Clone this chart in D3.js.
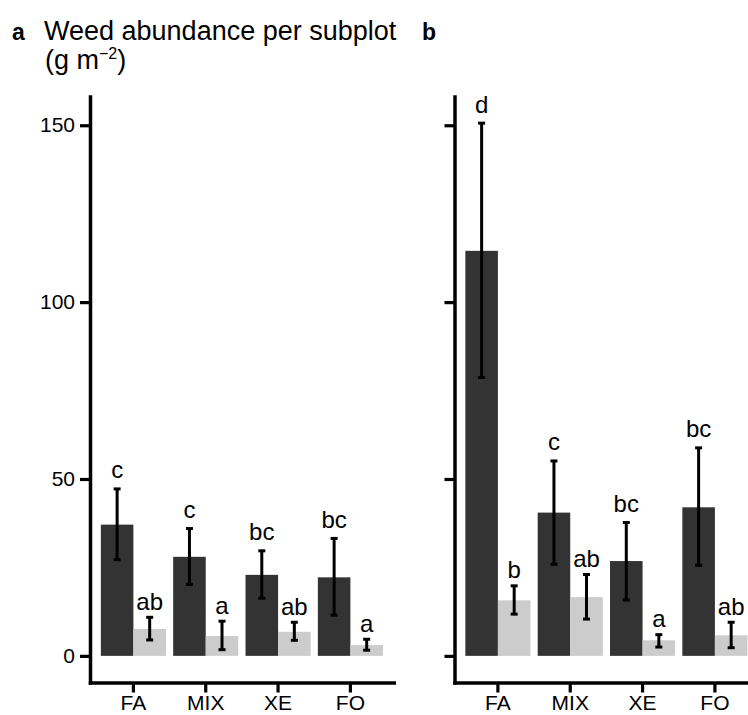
<!DOCTYPE html>
<html lang="en">
<head>
    <meta charset="UTF-8">
    <title>Weed abundance</title>
    <script src="https://d3js.org/d3.v7.min.js"></script>
    <style>
        body { margin: 0; background: #fff; }
        text { font-family: "Liberation Sans", Arial, sans-serif; fill: #000; }
    </style>
</head>
<body>
    <script>
        // treatments on the x axis
        var treatments = ["FA", "MIX", "XE", "FO"];
        var series = ["dark", "light"];
        var yTicks = [0, 50, 100, 150];

        // panel a
        var aDarkMean = [37.1, 28.0, 22.9, 22.2];
        var aDarkLow = [27.2, 20.2, 16.3, 11.5];
        var aDarkHigh = [47.2, 36.0, 29.7, 33.2];
        var aDarkLetters = ["c", "c", "bc", "bc"];
        var aLightMean = [7.6, 5.6, 6.8, 3.05];
        var aLightLow = [4.5, 1.75, 4.4, 1.6];
        var aLightHigh = [10.9, 9.8, 9.5, 4.7];
        var aLightLetters = ["ab", "a", "ab", "a"];

        // panel b
        var bDarkMean = [114.5, 40.5, 26.8, 42.0];
        var bDarkLow = [78.7, 25.9, 15.8, 25.6];
        var bDarkHigh = [150.6, 55.1, 37.7, 58.8];
        var bDarkLetters = ["d", "c", "bc", "bc"];
        var bLightMean = [15.7, 16.6, 4.4, 5.8];
        var bLightLow = [11.8, 10.4, 2.5, 2.3];
        var bLightHigh = [19.8, 23.0, 6.0, 9.5];
        var bLightLetters = ["b", "ab", "a", "ab"];

        var colors = { dark: "#333333", light: "#cccccc" };

        function rows(mean, low, high, letters, s) {
            return treatments.map(function (t, i) {
                return { t: t, s: s, mean: mean[i], low: low[i], high: high[i], letter: letters[i] };
            });
        }

        var panels = [
            { name: "a", left: 90, showLabels: true,
              data: rows(aDarkMean, aDarkLow, aDarkHigh, aDarkLetters, "dark")
                .concat(rows(aLightMean, aLightLow, aLightHigh, aLightLetters, "light")) },
            { name: "b", left: 454.5, showLabels: false,
              data: rows(bDarkMean, bDarkLow, bDarkHigh, bDarkLetters, "dark")
                .concat(rows(bLightMean, bLightLow, bLightHigh, bLightLetters, "light")) }
        ];

        var width = 748, height = 715,
            panelW = 303.8, plotTop = 96.5, plotBottom = 682.5;

        var svg = d3.select("body").append("svg")
            .attr("width", width)
            .attr("height", height);

        // shared y scale, ggplot style 5% expansion
        var allHigh = d3.max(panels, function (p) { return d3.max(p.data, function (d) { return d.high; }); });
        var pad = allHigh * 0.05;
        var y = d3.scaleLinear()
            .domain([-pad, allHigh + pad])
            .range([plotBottom, plotTop]);

        panels.forEach(function (p) {
            var x = d3.scaleBand()
                .domain(treatments)
                .range([p.left, p.left + panelW])
                .paddingInner(0)
                .paddingOuter(0.1);

            var xs = d3.scaleBand()
                .domain(series)
                .range([x.bandwidth() * 0.05, x.bandwidth() * 0.95]);

            var g = svg.append("g");

            g.selectAll("rect")
                .data(p.data)
                .enter().append("rect")
                .attr("x", function (d) { return x(d.t) + xs(d.s); })
                .attr("y", function (d) { return y(d.mean); })
                .attr("width", xs.bandwidth())
                .attr("height", function (d) { return y(0) - y(d.mean); })
                .attr("fill", function (d) { return colors[d.s]; });

            var cx = function (d) { return x(d.t) + xs(d.s) + xs.bandwidth() / 2; };
            var cap = 3.5;

            var err = g.selectAll(".err")
                .data(p.data)
                .enter().append("g")
                .attr("class", "err")
                .attr("stroke", "#000")
                .attr("stroke-width", 3);
            err.append("line")
                .attr("x1", cx).attr("x2", cx)
                .attr("y1", function (d) { return y(d.low); })
                .attr("y2", function (d) { return y(d.high); });
            err.append("line")
                .attr("x1", function (d) { return cx(d) - cap; })
                .attr("x2", function (d) { return cx(d) + cap; })
                .attr("y1", function (d) { return y(d.low); })
                .attr("y2", function (d) { return y(d.low); });
            err.append("line")
                .attr("x1", function (d) { return cx(d) - cap; })
                .attr("x2", function (d) { return cx(d) + cap; })
                .attr("y1", function (d) { return y(d.high); })
                .attr("y2", function (d) { return y(d.high); });

            g.selectAll(".letter")
                .data(p.data)
                .enter().append("text")
                .attr("class", "letter")
                .attr("x", cx)
                .attr("y", function (d) { return y(d.high) - (d.s == "dark" ? 10.5 : 7.5); })
                .attr("text-anchor", "middle")
                .attr("font-size", 24)
                .text(function (d) { return d.letter; });

            // axes
            var yAxis = d3.axisLeft(y)
                .tickValues(yTicks)
                .tickSize(10)
                .tickSizeOuter(0)
                .tickPadding(5);
            if (!p.showLabels) yAxis.tickFormat("");

            var ya = svg.append("g")
                .attr("transform", "translate(" + p.left + ",0)")
                .call(yAxis);

            var xa = svg.append("g")
                .attr("transform", "translate(0," + plotBottom + ")")
                .call(d3.axisBottom(x).tickSize(10).tickSizeOuter(0).tickPadding(3));

            [ya, xa].forEach(function (a) {
                a.attr("font-size", 21).attr("font-family", '"Liberation Sans", Arial, sans-serif');
                a.select(".domain").attr("stroke", "#000").attr("stroke-width", 3.5)
                    .attr("stroke-linecap", "square");
                a.selectAll(".tick line").attr("stroke", "#000").attr("stroke-width", 3.2);
                a.selectAll(".tick text").attr("fill", "#000");
            });
        });

        // titles
        svg.append("text")
            .attr("x", 12).attr("y", 39.5)
            .attr("font-size", 23).attr("font-weight", "bold")
            .text("a");
        svg.append("text")
            .attr("x", 422).attr("y", 39.5)
            .attr("font-size", 23).attr("font-weight", "bold")
            .text("b");
        svg.append("text")
            .attr("x", 44).attr("y", 39.5)
            .attr("font-size", 27)
            .text("Weed abundance per subplot");
        var unit = svg.append("text")
            .attr("x", 45).attr("y", 68.5)
            .attr("font-size", 27);
        unit.append("tspan").text("(g m");
        unit.append("tspan").attr("font-size", 16).attr("dy", -10).text("\u22122");
        unit.append("tspan").attr("dy", 10).text(")");
    </script>
</body>
</html>
